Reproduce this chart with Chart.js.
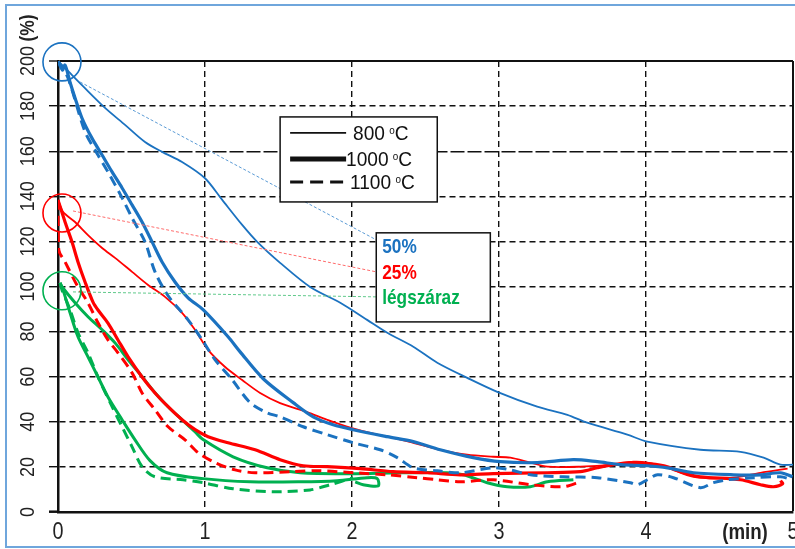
<!DOCTYPE html>
<html><head><meta charset="utf-8">
<script src="https://cdn.jsdelivr.net/npm/chart.js@4/dist/chart.umd.min.js"></script>
<style>html,body{margin:0;padding:0;background:#fff;overflow:hidden}canvas{display:block}</style>
</head><body>
<canvas id="c" width="795" height="549"></canvas>
<script>
// ---- tick labels ----
const xTickLabels = ['0','1','2','3','4','5'];
const yTickLabels = ['0','20','40','60','80','100','120','140','160','180','200'];
const xUnit = '(min)';
const yUnit = '(%)';
const tempLabels = ['800', '1000', '1100'];
const moistLabels = ['50%', '25%', 'légszáraz'];

// ---- series: [time (min), value (%)] ----
const blue800 = [[0,200],[0.048,196.9],[0.163,189.3],[0.32,179.2],[0.456,171.7],[0.592,164.1],[0.708,159.7],[0.844,155.2],[1.0,148],[1.116,138.5],[1.253,127.3],[1.355,119.8],[1.511,110.5],[1.715,99.8],[1.92,92.8],[2.103,85.2],[2.24,79.5],[2.417,73.3],[2.58,66.2],[2.784,59.5],[2.988,53.3],[3.26,46.7],[3.465,43.1],[3.6,39.6],[3.873,34.3],[4.009,31.2],[4.37,27.6],[4.643,26.7],[4.8,24.1],[4.915,21.0],[5,21]];
const blue1000 = [[0,200],[0.03,196],[0.048,198.2],[0.082,190.6],[0.116,183.6],[0.163,174.7],[0.231,165.8],[0.3,158.3],[0.368,150.8],[0.436,143.7],[0.504,136.2],[0.572,128.6],[0.64,119.8],[0.708,110.9],[0.796,102.0],[0.885,95.0],[0.987,89.7],[1.157,77.7],[1.239,71.0],[1.396,59.1],[1.6,48.5],[1.736,42.2],[1.872,38.7],[2.008,36.5],[2.24,33.4],[2.417,31.2],[2.6,27.6],[2.825,24.1],[3.009,22.3],[3.26,21.9],[3.506,23.2],[3.669,22.3],[3.826,21.0],[4.009,20.5],[4.146,19.6],[4.323,17.4],[4.595,16.5],[4.779,16.5],[4.915,17.4],[4.997,15.6]];
const blue1100 = [[0,200],[0.068,192.5],[0.184,168.6],[0.272,158.3],[0.34,150.8],[0.436,139.3],[0.504,130.4],[0.592,119.8],[0.66,106.5],[0.749,95.9],[0.885,85.2],[0.98,76.4],[1.069,67.5],[1.184,58.7],[1.307,48.5],[1.423,44.0],[1.511,42.2],[1.668,37.8],[1.831,34.3],[2.008,30.7],[2.192,27.6],[2.308,24.1],[2.417,19.6],[2.58,18.3],[2.737,17.4],[2.961,19.6],[3.077,18.7],[3.213,16.5],[3.438,15.6],[3.669,15.2],[3.894,13.0],[3.941,12.1],[4.009,14.3],[4.078,16.5],[4.187,15.2],[4.37,10.8],[4.459,13.0],[4.554,14.3],[4.731,15.2],[4.915,15.6],[4.997,14.3]];
const red800 = [[0,138.4],[0.034,133.1],[0.116,128.6],[0.204,122.8],[0.3,117.1],[0.388,112.7],[0.504,106.5],[0.613,100.7],[0.728,95.4],[0.844,88.3],[0.933,80.7],[1.021,71.9],[1.137,64.3],[1.253,58.5],[1.375,52.8],[1.511,48.3],[1.695,44.3],[1.831,40.9],[1.988,37.4],[2.172,34.3],[2.28,32.9],[2.417,30.7],[2.6,27.6],[2.784,25.4],[2.961,24.5],[3.077,24.1],[3.213,21.9],[3.329,20.1],[3.553,20.1],[3.778,21.0],[3.914,22.3],[4.009,21.9],[4.146,19.6],[4.323,15.6],[4.595,15.2],[4.779,17.4],[4.963,19.2]];
const red1000 = [[0,138.4],[0.048,128.6],[0.095,119.8],[0.136,110.9],[0.184,102.0],[0.238,93.1],[0.272,89.6],[0.34,83.8],[0.408,76.3],[0.477,68.8],[0.572,59.9],[0.66,52.8],[0.749,46.7],[0.844,40.9],[0.933,36.5],[1.021,33.4],[1.157,30.7],[1.341,27.6],[1.511,23.2],[1.668,20.5],[1.831,20.1],[2.056,19.2],[2.28,17.9],[2.512,17.4],[2.737,16.5],[2.961,17.0],[3.329,17.4],[3.553,17.9],[3.669,19.6],[3.778,21.0],[3.894,21.9],[4.03,21.4],[4.146,20.1],[4.255,17.4],[4.37,15.6],[4.643,14.3],[4.779,12.1],[4.867,11.2],[4.929,12.5],[4.915,13.9]];
const red1100 = [[0,138.4],[0.005,116.2],[0.048,110.9],[0.136,99.8],[0.204,92.8],[0.272,83.9],[0.34,76.3],[0.408,70.6],[0.504,61.7],[0.572,52.8],[0.66,45.3],[0.749,37.8],[0.864,32.0],[0.953,26.3],[1.069,21.9],[1.205,18.7],[1.341,17.4],[1.6,17.9],[1.784,18.3],[2.008,17.4],[2.24,16.5],[2.444,15.2],[2.58,14.3],[2.737,13.4],[2.961,14.3],[3.213,12.1],[3.438,11.2],[3.553,13.4]];
const green800 = [[0.014,101.6],[0.027,99.9],[0.116,92.8],[0.204,86.6],[0.3,80.8],[0.388,75.0],[0.477,67.5],[0.572,60.0],[0.66,52.9],[0.749,46.7],[0.844,40.9],[0.933,35.5],[0.987,32.1],[1.191,24.5],[1.423,19.6],[1.647,17.4],[1.988,17.0],[2.328,17.4],[2.648,17.4],[2.757,16.5],[2.92,13.0],[3.056,11.2],[3.213,11.2],[3.329,13.4],[3.506,14.3]];
const green1000 = [[0.014,101.6],[0.034,98.5],[0.082,88.3],[0.136,77.7],[0.204,68.8],[0.272,59.9],[0.34,51.0],[0.436,40.9],[0.524,32.0],[0.626,22.8],[0.742,17.4],[0.987,14.8],[1.307,13.4],[1.647,13.4],[1.899,13.9],[2.103,15.2],[2.172,14.8],[2.178,11.6],[2.076,12.1],[2.022,13.4]];
const green1100 = [[0.014,101.6],[0.027,98.5],[0.082,89.7],[0.136,79.5],[0.204,70.6],[0.272,59.9],[0.368,46.7],[0.436,37.8],[0.504,28.9],[0.572,20.1],[0.66,15.6],[0.851,14.3],[0.987,13.0],[1.191,10.3],[1.464,9.0],[1.715,9.8],[1.852,12.1],[2.008,15.2]];

// annotation anchors (data coordinates)
const circleCenters = [[0.027,199.6],[0.027,132.6],[0.027,98.1]];
const connectorStarts = [[0.15,190.7],[0.102,133.5],[0.102,97.6]];
const connectorEnds = [[2.165,120.7],[2.165,106.5],[2.165,95.4]];
const legendBox1 = [1.511,175.2,2.58,137.5];
const legendBox2 = [2.165,123.8,2.941,84.3];

const BLUE = '#1b72c0', RED = '#ff0000', GREEN = '#00b050';
const FONT = '"Liberation Sans", Arial, sans-serif';

const toXY = a => a.map(p => ({x: p[0], y: p[1]}));
function ds(data, color, width, dash) {
  return {data: toXY(data), borderColor: color, borderWidth: width, borderDash: dash || [],
    showLine: true, pointRadius: 0, fill: false, tension: 0.3, borderCapStyle: 'butt', borderJoinStyle: 'round'};
}

function txt(ctx, s, x, y, o) {
  ctx.save();
  ctx.translate(x, y);
  if (o.rot) ctx.rotate(o.rot);
  ctx.scale(o.sx || 0.88, 1);
  ctx.font = (o.bold ? 'bold ' : '') + o.size + 'px ' + FONT;
  ctx.fillStyle = o.color || '#222';
  ctx.textAlign = o.align || 'left';
  ctx.textBaseline = 'middle';
  ctx.fillText(s, 0, 0);
  const w = ctx.measureText(s).width * (o.sx || 0.88);
  ctx.restore();
  return w;
}

const deco = {
  id: 'deco',
  afterDraw(chart) {
    const ctx = chart.ctx, xs = chart.scales.x, ys = chart.scales.y;
    const px = v => xs.getPixelForValue(v), py = v => ys.getPixelForValue(v);
    // tick labels
    xTickLabels.forEach((l, i) => txt(ctx, l, px(i), 533, {size: 23, sx: 0.86, align: 'center'}));
    txt(ctx, xUnit, 745, 533, {size: 22, bold: true, sx: 0.85, align: 'center'});
    yTickLabels.forEach((l, i) => txt(ctx, l, 28, py(i * 20), {size: 21, sx: 0.855, align: 'center', rot: -Math.PI / 2}));
    txt(ctx, yUnit, 28, 28, {size: 20, bold: true, sx: 0.87, align: 'center', rot: -Math.PI / 2});

    // connectors
    const ccol = ['#5b9bd5', '#ff6b6b', '#5fc98a'];
    ctx.save();
    ctx.lineWidth = 1;
    ctx.setLineDash([3, 2]);
    connectorStarts.forEach((s, i) => {
      ctx.strokeStyle = ccol[i];
      ctx.beginPath(); ctx.moveTo(px(s[0]), py(s[1])); ctx.lineTo(px(connectorEnds[i][0]), py(connectorEnds[i][1])); ctx.stroke();
    });
    ctx.restore();
    // circles
    const cc = [BLUE, RED, GREEN];
    ctx.save();
    ctx.lineWidth = 1.6;
    circleCenters.forEach((c, i) => {
      ctx.strokeStyle = cc[i];
      ctx.beginPath(); ctx.arc(px(c[0]), py(c[1]), 19, 0, Math.PI * 2); ctx.stroke();
    });
    ctx.restore();

    // legend box 1
    ctx.save();
    const b1 = [px(legendBox1[0]), py(legendBox1[1]), px(legendBox1[2]), py(legendBox1[3])];
    ctx.fillStyle = '#fff'; ctx.fillRect(b1[0], b1[1], b1[2] - b1[0], b1[3] - b1[1]);
    ctx.strokeStyle = '#111'; ctx.lineWidth = 1.5; ctx.strokeRect(b1[0], b1[1], b1[2] - b1[0], b1[3] - b1[1]);
    const rows = [b1[1] + 16, b1[1] + 42, b1[1] + 65];
    const lw = [1.6, 5, 3];
    const ldash = [[], [], [13, 7]];
    const tx = [353, 346, 350];
    rows.forEach((ry, i) => {
      ctx.strokeStyle = '#111'; ctx.lineWidth = lw[i]; ctx.setLineDash(ldash[i]);
      ctx.beginPath(); ctx.moveTo(b1[0] + 10, ry); ctx.lineTo(b1[0] + 66, ry); ctx.stroke();
      ctx.setLineDash([]);
      let w = txt(ctx, tempLabels[i] + ' ', tx[i], ry + 1, {size: 21, sx: 0.91, color: '#111'});
      let w2 = txt(ctx, 'o', tx[i] + w - 1, ry - 2, {size: 11, sx: 0.9, color: '#111'});
      txt(ctx, 'C', tx[i] + w + w2 - 1, ry + 1, {size: 21, sx: 0.91, color: '#111'});
    });
    ctx.restore();

    // legend box 2
    ctx.save();
    const b2 = [px(legendBox2[0]), py(legendBox2[1]), px(legendBox2[2]), py(legendBox2[3])];
    ctx.fillStyle = '#fff'; ctx.fillRect(b2[0], b2[1], b2[2] - b2[0], b2[3] - b2[1]);
    ctx.strokeStyle = '#111'; ctx.lineWidth = 1.5; ctx.strokeRect(b2[0], b2[1], b2[2] - b2[0], b2[3] - b2[1]);
    const r2 = [b2[1] + 14, b2[1] + 40, b2[1] + 65];
    moistLabels.forEach((l, i) => txt(ctx, l, b2[0] + 6, r2[i], {size: 21, bold: true, sx: 0.82, color: cc[i]}));
    ctx.restore();

    // outer frame
    ctx.save();
    ctx.strokeStyle = '#6fa6dc'; ctx.lineWidth = 2;
    ctx.strokeRect(6, 5, 800, 542);
    ctx.restore();
  }
};

new Chart(document.getElementById('c'), {
  type: 'scatter',
  data: {datasets: [
    ds(blue800, BLUE, 1.8), ds(blue1000, BLUE, 3.2), ds(blue1100, BLUE, 3, [10, 6]),
    ds(red800, RED, 1.8), ds(red1000, RED, 3.2), ds(red1100, RED, 3, [10, 6]),
    ds(green800, GREEN, 3), ds(green1000, GREEN, 3), ds(green1100, GREEN, 3, [10, 6])
  ]},
  options: {
    responsive: false, animation: false, devicePixelRatio: 1,
    layout: {padding: {left: 8, right: 2, top: 61, bottom: 0}},
    plugins: {legend: {display: false}, tooltip: {enabled: false}},
    scales: {
      x: {type: 'linear', min: 0, max: 5,
        afterFit: s => { s.height = 37; },
        ticks: {display: false, stepSize: 1},
        grid: {
          color: c => c.tick && c.tick.value === 0 ? 'rgba(0,0,0,0)' : '#111',
          lineWidth: c => c.tick && c.tick.value === 5 ? 2 : 1.4,
          drawTicks: false
        },
        border: {display: true, color: '#111', width: 2.5,
          dash: c => c.tick && c.tick.value === 5 ? [] : [6, 4]}
      },
      y: {type: 'linear', min: 0, max: 200,
        afterFit: s => { s.width = 50; },
        ticks: {display: false, stepSize: 20},
        grid: {
          color: c => c.tick && c.tick.value === 0 ? 'rgba(0,0,0,0)' : '#111',
          lineWidth: c => c.tick && c.tick.value === 200 ? 2 : 1.4,
          drawTicks: true, tickLength: 9, tickColor: '#111',
          tickWidth: c => c.tick && c.tick.value === 0 ? 2.5 : 1.4
        },
        border: {display: true, color: '#111', width: 2.5,
          dash: c => { const v = c.tick && c.tick.value; return v === 200 ? [] : v === 160 ? [14, 3] : [6, 4]; }}
      }
    }
  },
  plugins: [deco]
});
</script>
</body></html>
